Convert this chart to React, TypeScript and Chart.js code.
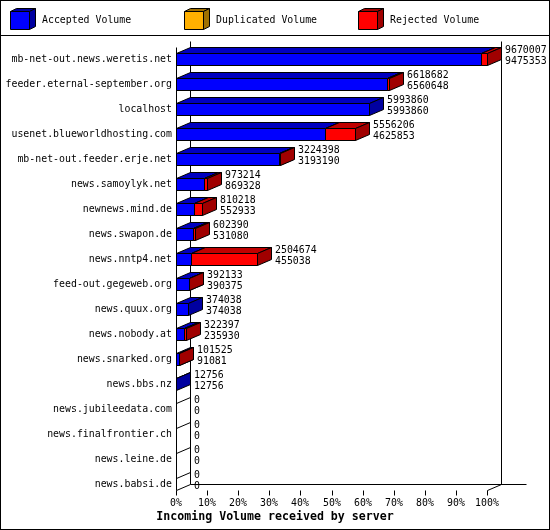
import React, { useEffect, useRef } from "react";
import { Chart, registerables } from "chart.js";

Chart.register(...registerables);

const servers = [
  "mb-net-out.news.weretis.net",
  "feeder.eternal-september.org",
  "localhost",
  "usenet.blueworldhosting.com",
  "mb-net-out.feeder.erje.net",
  "news.samoylyk.net",
  "newnews.mind.de",
  "news.swapon.de",
  "news.nntp4.net",
  "feed-out.gegeweb.org",
  "news.quux.org",
  "news.nobody.at",
  "news.snarked.org",
  "news.bbs.nz",
  "news.jubileedata.com",
  "news.finalfrontier.ch",
  "news.leine.de",
  "news.babsi.de",
];

const totalVolume = [
  9670007, 6618682, 5993860, 5556206, 3224398, 973214, 810218, 602390, 2504674,
  392133, 374038, 322397, 101525, 12756, 0, 0, 0, 0,
];
const acceptedVolume = [
  9475353, 6560648, 5993860, 4625853, 3193190, 869328, 552933, 531080, 455038,
  390375, 374038, 235930, 91081, 12756, 0, 0, 0, 0,
];
const duplicatedVolume = [0, 0, 0, 0, 0, 0, 0, 0, 0, 0, 0, 0, 0, 0, 0, 0, 0, 0];
const rejectedVolume = [
  194654, 58034, 0, 930353, 31208, 103886, 257285, 71310, 2049636, 1758, 0,
  86467, 10444, 0, 0, 0, 0, 0,
];

const xTicks = [0, 10, 20, 30, 40, 50, 60, 70, 80, 90, 100];
const seriesNames = ["Accepted Volume", "Duplicated Volume", "Rejected Volume"];
const axisTitle = "Incoming Volume received by server";

const frontColors = ["#0000ff", "#ffb000", "#ff0000"];
const topColors = ["#0000c0", "#c08400", "#c00000"];
const sideColors = ["#0000a0", "#a07000", "#a00000"];

const FONT = "'DejaVu Sans Mono', 'Liberation Mono', monospace";
const FS = 9.9;
const DX = 14;
const DY = 6;
const HALF = 6;

const maxTotal = Math.max(...totalVolume);
const pct = (v: number) => (v / maxTotal) * 100;
const px = (v: number) => Math.round(v) + 0.5;

function poly(ctx: CanvasRenderingContext2D, pts: number[][], fill: string) {
  ctx.beginPath();
  ctx.moveTo(pts[0][0], pts[0][1]);
  for (let k = 1; k < pts.length; k++) ctx.lineTo(pts[k][0], pts[k][1]);
  ctx.closePath();
  ctx.fillStyle = fill;
  ctx.fill();
  ctx.stroke();
}

const gdPlugin = {
  id: "gd3d",
  beforeDraw(chart: any) {
    const ctx = chart.ctx;
    ctx.save();
    ctx.fillStyle = "#ffffff";
    ctx.fillRect(0, 0, chart.width, chart.height);
    ctx.restore();
  },
  beforeDatasetsDraw(chart: any) {
    const ctx: CanvasRenderingContext2D = chart.ctx;
    const xs = chart.scales.x;
    const ys = chart.scales.y;
    const x0 = px(xs.getPixelForValue(0));
    const x1 = px(xs.getPixelForValue(100));
    const top = px(chart.chartArea.top);
    const bottom = px(ys.getPixelForValue(servers.length - 1) + HALF);
    ctx.save();
    ctx.strokeStyle = "#000";
    ctx.lineWidth = 1;
    ctx.beginPath();
    ctx.moveTo(x0, top);
    ctx.lineTo(x0, bottom);
    ctx.moveTo(x0 + DX, top - DY);
    ctx.lineTo(x0 + DX, bottom - DY);
    ctx.moveTo(x1 + DX, top - DY);
    ctx.lineTo(x1 + DX, bottom - DY);
    ctx.moveTo(x0 + DX, bottom - DY);
    ctx.lineTo(x1 + DX + 25, bottom - DY);
    ctx.moveTo(x0, bottom);
    ctx.lineTo(x0 + DX, bottom - DY);
    ctx.moveTo(x1, bottom);
    ctx.lineTo(x1 + DX, bottom - DY);
    for (const t of xTicks) {
      const xt = px(xs.getPixelForValue(t));
      ctx.moveTo(xt, bottom);
      ctx.lineTo(xt, bottom + 5);
    }
    ctx.stroke();
    ctx.fillStyle = "#000";
    ctx.font = `${FS}px ${FONT}`;
    ctx.textAlign = "center";
    ctx.textBaseline = "middle";
    for (const t of xTicks) {
      ctx.fillText(`${t}%`, Math.round(xs.getPixelForValue(t)), bottom + 12.5);
    }
    ctx.font = `bold 11.6px ${FONT}`;
    ctx.fillText(axisTitle, 275, 517);
    ctx.restore();
  },
  afterDatasetsDraw(chart: any) {
    const ctx: CanvasRenderingContext2D = chart.ctx;
    const xs = chart.scales.x;
    ctx.save();
    ctx.strokeStyle = "#000";
    ctx.lineWidth = 1;
    for (let i = 0; i < servers.length; i++) {
      const el0 = chart.getDatasetMeta(0).data[i];
      const yc = el0.y;
      const t = px(yc - HALF);
      const b = t + 2 * HALF;
      const x0 = px(xs.getPixelForValue(0));
      if (totalVolume[i] === 0) {
        ctx.beginPath();
        ctx.moveTo(x0, t);
        ctx.lineTo(x0 + DX, t - DY);
        ctx.stroke();
      } else {
        for (let j = 0; j < 3; j++) {
          const el = chart.getDatasetMeta(j).data[i];
          const raw = chart.data.datasets[j].data[i];
          if (!raw) continue;
          const X0 = px(el.base);
          const X1 = px(el.x);
          poly(ctx, [[X0, t], [X1, t], [X1 + DX, t - DY], [X0 + DX, t - DY]], topColors[j]);
          poly(ctx, [[X1, t], [X1 + DX, t - DY], [X1 + DX, b - DY], [X1, b]], sideColors[j]);
          poly(ctx, [[X0, t], [X1, t], [X1, b], [X0, b]], frontColors[j]);
        }
      }
      const xe = Math.round(xs.getPixelForValue(pct(totalVolume[i]))) + DX + 4;
      ctx.fillStyle = "#000";
      ctx.font = `${FS}px ${FONT}`;
      ctx.textAlign = "left";
      ctx.textBaseline = "middle";
      ctx.fillText(String(totalVolume[i]), xe, yc - 8.5);
      ctx.fillText(String(acceptedVolume[i]), xe, yc + 2);
    }
    ctx.restore();
  },
  afterDraw(chart: any) {
    const ctx: CanvasRenderingContext2D = chart.ctx;
    ctx.save();
    ctx.strokeStyle = "#000";
    ctx.lineWidth = 1;
    const legendX = [10, 184, 358];
    for (let j = 0; j < 3; j++) {
      const fx = legendX[j] + 0.5;
      const ft = 11.5;
      const w = 19;
      const h = 18;
      poly(ctx, [[fx, ft], [fx + w, ft], [fx + w + 6, ft - 3], [fx + 6, ft - 3]], sideColors[j]);
      poly(ctx, [[fx + w, ft], [fx + w + 6, ft - 3], [fx + w + 6, ft + h - 3], [fx + w, ft + h]], sideColors[j]);
      poly(ctx, [[fx, ft], [fx + w, ft], [fx + w, ft + h], [fx, ft + h]], frontColors[j]);
      ctx.fillStyle = "#000";
      ctx.font = `${FS}px ${FONT}`;
      ctx.textAlign = "left";
      ctx.textBaseline = "middle";
      ctx.fillText(seriesNames[j], legendX[j] + 32, 20);
    }
    ctx.beginPath();
    ctx.moveTo(0, 35.5);
    ctx.lineTo(chart.width, 35.5);
    ctx.stroke();
    ctx.strokeRect(0.5, 0.5, chart.width - 1, chart.height - 1);
    ctx.restore();
  },
};

export default function App() {
  const ref = useRef<HTMLCanvasElement | null>(null);
  useEffect(() => {
    if (!ref.current) return;
    const series = [acceptedVolume, duplicatedVolume, rejectedVolume];
    const chart = new Chart(ref.current, {
      type: "bar",
      data: {
        labels: servers,
        datasets: series.map((s, j) => ({
          label: seriesNames[j],
          data: s.map(pct),
          backgroundColor: "rgba(0,0,0,0)",
          borderWidth: 0,
          barThickness: 12,
        })),
      },
      options: {
        indexAxis: "y",
        responsive: false,
        animation: false,
        devicePixelRatio: 1,
        layout: { padding: { top: 46.5, bottom: 33.5, left: 0, right: 63 } },
        plugins: { legend: { display: false }, tooltip: { enabled: false } },
        scales: {
          x: { type: "linear", stacked: true, min: 0, max: 100, display: false },
          y: {
            type: "category",
            stacked: true,
            offset: true,
            grid: { display: false, drawTicks: false },
            border: { display: false },
            ticks: {
              autoSkip: false,
              padding: 4,
              color: "#000",
              font: { family: FONT, size: FS },
            },
            afterFit: (s: any) => {
              s.width = 176;
            },
          },
        },
      },
      plugins: [gdPlugin],
    } as any);
    return () => chart.destroy();
  }, []);
  return (
    <div style={{ position: "absolute", left: 0, top: 0, width: 550, height: 530 }}>
      <canvas ref={ref} width={550} height={530} style={{ display: "block" }} />
    </div>
  );
}
